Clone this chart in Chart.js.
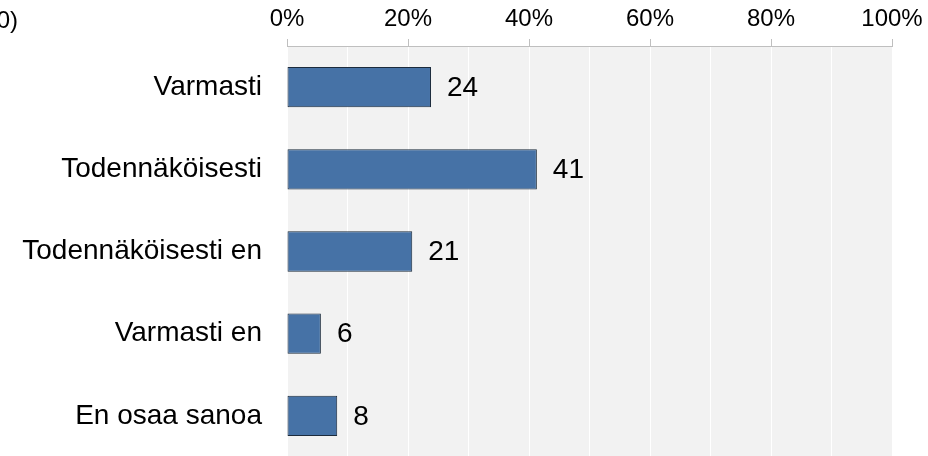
<!DOCTYPE html>
<html>
<head>
<meta charset="utf-8">
<script src="https://cdn.jsdelivr.net/npm/chart.js@4.4.1/dist/chart.umd.min.js"></script>
<style>
    html, body { margin: 0; padding: 0; background: #fff; overflow: hidden; }
    canvas { display: block; }
</style>
</head>
<body>
<canvas id="chart" width="928" height="458"></canvas>
<script>
// Chart data
const categories = ['Varmasti', 'Todennäköisesti', 'Todennäköisesti en', 'Varmasti en', 'En osaa sanoa'];
const shares = [23.8, 41.3, 20.7, 5.6, 8.3];
const shareLabels = ['24', '41', '21', '6', '8'];
const titleFragment = '0)';

const FONT = '"Liberation Sans", Arial, sans-serif';

// Light grey plot background
const plotBackground = {
    id: 'plotBackground',
    beforeDraw(chart) {
        const { ctx, chartArea } = chart;
        ctx.save();
        ctx.fillStyle = '#f2f2f2';
        ctx.fillRect(chartArea.left, chartArea.top, chartArea.right - chartArea.left, chartArea.bottom - chartArea.top);
        ctx.restore();
    }
};

// Value labels to the right of each bar, plus the clipped title text
const valueLabels = {
    id: 'valueLabels',
    afterDatasetsDraw(chart) {
        const ctx = chart.ctx;
        const meta = chart.getDatasetMeta(0);
        ctx.save();
        ctx.font = '28px ' + FONT;
        ctx.fillStyle = '#000';
        ctx.textAlign = 'left';
        ctx.textBaseline = 'middle';
        meta.data.forEach((bar, i) => {
            ctx.fillText(shareLabels[i], bar.x + 16, bar.y + 1);
        });
        ctx.font = '24px ' + FONT;
        ctx.textAlign = 'right';
        ctx.fillText(titleFragment, 18, 21);
        ctx.restore();
    }
};

const config = {
    type: 'bar',
    data: {
        labels: categories,
        datasets: [{
            data: shares,
            backgroundColor: '#4672a6',
            borderColor: '#1c2b3c',
            borderWidth: 1,
            borderSkipped: false,
            barPercentage: 0.49,
            categoryPercentage: 1
        }]
    },
    options: {
        indexAxis: 'y',
        responsive: false,
        animation: false,
        devicePixelRatio: 1,
        layout: { padding: { left: 0, right: 36, top: 0, bottom: 1 } },
        plugins: {
            legend: { display: false },
            tooltip: { enabled: false }
        },
        scales: {
            x: {
                position: 'top',
                min: 0,
                max: 100,
                afterFit: function(scale) { scale.height = 46; },
                ticks: {
                    stepSize: 10,
                    autoSkip: false,
                    maxRotation: 0,
                    padding: 5,
                    color: '#000',
                    font: { family: FONT, size: 24 },
                    callback: function(value) {
                        return value % 20 === 0 ? value + '%' : '';
                    }
                },
                grid: {
                    color: '#ffffff',
                    lineWidth: 1,
                    tickLength: 7,
                    tickColor: function(context) {
                        return context.tick && context.tick.value % 20 === 0 ? '#bfbfbf' : 'rgba(0,0,0,0)';
                    }
                },
                border: { display: true, color: '#bfbfbf' }
            },
            y: {
                afterFit: function(scale) {
                    scale.width = 287;
                    // label padding should not eat vertical space
                    scale.paddingTop = 0;
                    scale.paddingBottom = 0;
                },
                ticks: {
                    padding: 25,
                    color: '#000',
                    font: { family: FONT, size: 28 }
                },
                grid: { display: false, drawTicks: false },
                border: { display: false }
            }
        }
    },
    plugins: [plotBackground, valueLabels]
};

new Chart(document.getElementById('chart').getContext('2d'), config);
</script>
</body>
</html>
